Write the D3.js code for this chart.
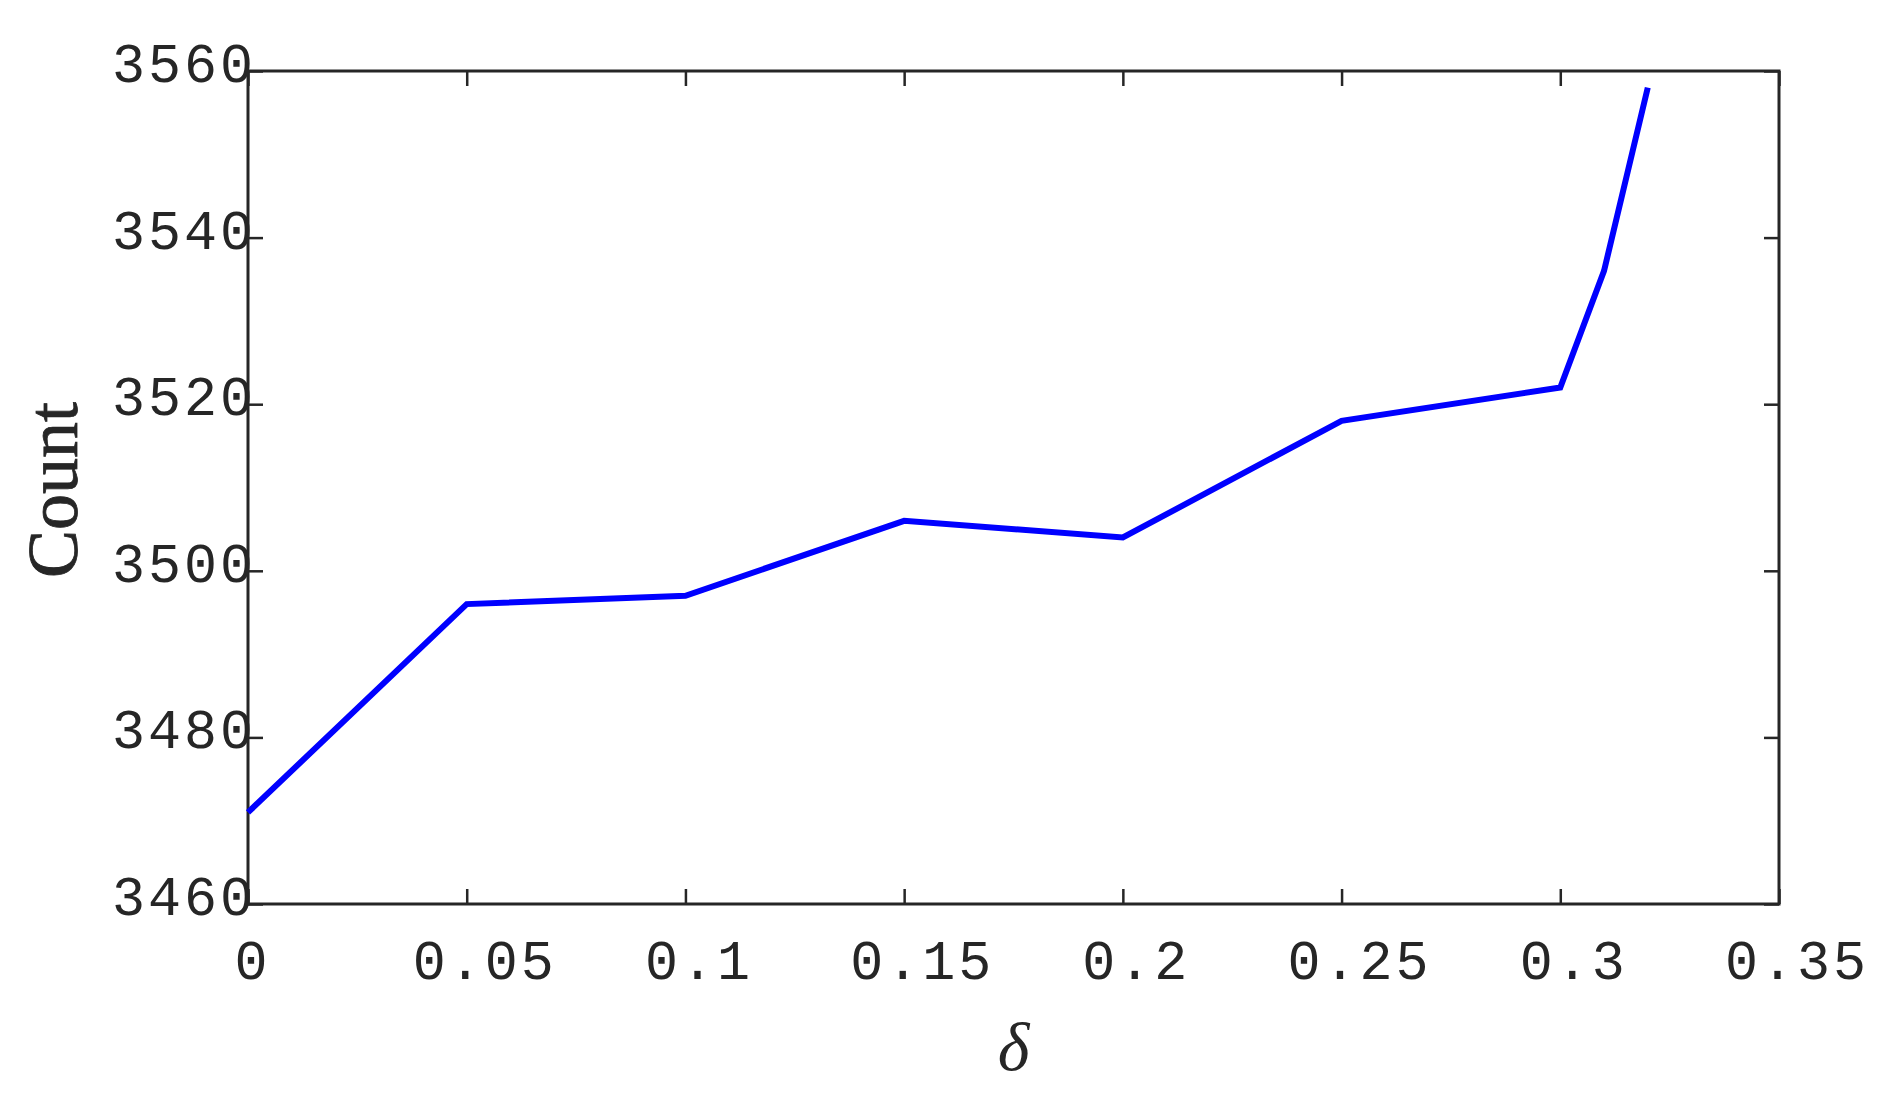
<!DOCTYPE html>
<html>
<head>
<meta charset="utf-8">
<script src="https://cdn.jsdelivr.net/npm/d3@7"></script>
<style>
  html, body { margin: 0; padding: 0; background: #fff; }
  svg { display: block; }
  .tick text { font-family: "Liberation Mono", "DejaVu Sans Mono", monospace; font-size: 55px; letter-spacing: 3px; fill: #262626; }
</style>
</head>
<body>
<svg id="chart" width="1895" height="1107"></svg>
<script>
const deltas = [0, 0.05, 0.1, 0.15, 0.2, 0.25, 0.3, 0.31, 0.32];
const counts = [3471, 3496, 3497, 3506, 3504, 3518, 3522, 3536, 3558];
const xTicks = [0, 0.05, 0.1, 0.15, 0.2, 0.25, 0.3, 0.35];
const yTicks = [3460, 3480, 3500, 3520, 3540, 3560];

const svg = d3.select("#chart");
const plotLeft = 248, plotRight = 1779, plotTop = 71, plotBottom = 904;
const ink = "#262626";
const fmtX = (d) => String(+d.toFixed(2));

const x = d3.scaleLinear().domain([0, 0.35]).range([plotLeft, plotRight]);
const y = d3.scaleLinear().domain([3460, 3560]).range([plotBottom, plotTop]);

// x axis, ticks pointing inward
const xAxis = svg.append("g")
  .attr("transform", `translate(0,${plotBottom})`)
  .call(d3.axisBottom(x).tickValues(xTicks).tickSizeInner(-15).tickSizeOuter(0).tickPadding(36)
    .tickFormat(fmtX));
xAxis.select(".domain").remove();
xAxis.selectAll(".tick line").attr("stroke", ink).attr("stroke-width", 2.5);
// labels sit a little right of their tick, more so for longer labels
xAxis.selectAll(".tick text")
  .attr("dy", "0.71em")
  .attr("dx", (d) => 4 + 4.5 * (fmtX(d).length - 1));

// top ticks
svg.append("g")
  .attr("transform", `translate(0,${plotTop})`)
  .call(d3.axisTop(x).tickValues(xTicks).tickSizeInner(-15).tickSizeOuter(0).tickFormat(""))
  .call((g) => g.select(".domain").remove())
  .selectAll(".tick line").attr("stroke", ink).attr("stroke-width", 2.5);

const yAxis = svg.append("g")
  .attr("transform", `translate(${plotLeft},0)`)
  .call(d3.axisLeft(y).tickValues(yTicks).tickFormat(d3.format("d"))
    .tickSizeInner(-15).tickSizeOuter(0).tickPadding(-8));
yAxis.select(".domain").remove();
yAxis.selectAll(".tick line").attr("stroke", ink).attr("stroke-width", 2.5);
yAxis.selectAll(".tick text").attr("dy", "0.19em");

svg.append("g")
  .attr("transform", `translate(${plotRight},0)`)
  .call(d3.axisRight(y).tickValues(yTicks).tickSizeInner(-15).tickSizeOuter(0).tickFormat(""))
  .call((g) => g.select(".domain").remove())
  .selectAll(".tick line").attr("stroke", ink).attr("stroke-width", 2.5);

// frame
svg.append("rect")
  .attr("x", plotLeft).attr("y", plotTop)
  .attr("width", plotRight - plotLeft).attr("height", plotBottom - plotTop)
  .attr("fill", "none").attr("stroke", ink).attr("stroke-width", 3);

const line = d3.line().x((d, i) => x(deltas[i])).y((d) => y(d));
svg.append("path")
  .datum(counts)
  .attr("d", line)
  .attr("fill", "none")
  .attr("stroke", "#0000ff")
  .attr("stroke-width", 6)
  .attr("stroke-linejoin", "miter");

svg.append("text")
  .attr("transform", `translate(77,490) rotate(-90)`)
  .attr("text-anchor", "middle")
  .attr("font-family", "Liberation Serif, serif")
  .attr("font-size", 72)
  .attr("fill", ink)
  .attr("stroke", ink)
  .attr("stroke-width", 0.8)
  .text("Count");

svg.append("text")
  .attr("x", (plotLeft + plotRight) / 2)
  .attr("y", 1070)
  .attr("text-anchor", "middle")
  .attr("font-family", "Liberation Serif, serif")
  .attr("font-style", "italic")
  .attr("font-size", 68)
  .attr("fill", ink)
  .text("δ");
</script>
</body>
</html>
